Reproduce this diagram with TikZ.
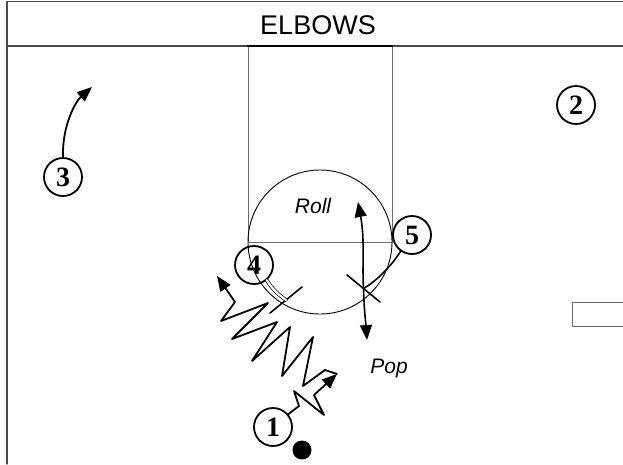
\documentclass[tikz,border=0pt]{standalone}
\usepackage{fontspec}
\setmainfont{Liberation Serif}
\newfontfamily\courtfont{Liberation Sans}
\usepackage{tikz}
\usetikzlibrary{calc,arrows.meta}
\definecolor{court}{HTML}{6E6E6E}
\definecolor{frame}{HTML}{4A4A4A}
\tikzset{
  Player/.style={
    draw, circle, line width=1.8pt,
    minimum size=38pt, inner sep=0pt,
    font=\fontsize{28}{28}\selectfont\bfseries
  },
  CourtLine/.style={draw=court, line width=0.9pt},
  Move/.style={line width=1.8pt, -{Triangle[length=15pt,width=12pt]}},
  ScreenLine/.style={line width=1.6pt},
  PlayLabel/.style={font=\courtfont\itshape\fontsize{21}{21}\selectfont}
}

\begin{document}
\begin{tikzpicture}[x=1pt, y=-1pt, line cap=round, line join=round]
  \useasboundingbox (0,0) rectangle (623,464);

  % frame and title bar
  \draw[frame, line width=1.3pt] (623,1.5) -- (7,1.5) -- (7,464);
  \draw[frame, line width=1.3pt] (7,46) -- (623,46);
  \node[font=\courtfont\fontsize{27}{27}\selectfont] (title) at (318,25) {ELBOWS};

  % lane, free throw circle, block mark
  \draw[CourtLine] (248,46) rectangle (392,242);
  \draw[line width=2.2pt] (248,46) -- (392,46);
  \draw[line width=0.9pt] (320,242) circle[radius=72];
  \draw[CourtLine] (623,302) -- (572,302) -- (572,326) -- (623,326);

  \node[Player] (P1) at (273,427) {1};
  \node[Player] (P2) at (576,105) {2};
  \node[Player] (P3) at (63,177) {3};
  \node[Player] (P4) at (254,265) {4};
  \node[Player] (P5) at (412,235) {5};
  \node[fill, circle, minimum size=19pt, inner sep=0pt] (ball) at (302,450) {};

  % screens
  \coordinate (S4a) at (270,313);
  \coordinate (S4b) at (302,287);
  \coordinate (S4) at ($(S4a)!0.5!(S4b)$);
  \coordinate (S5a) at (347,275);
  \coordinate (S5b) at (380,302);
  \coordinate (S5) at ($(S5a)!0.5!(S5b)$);
  \draw[ScreenLine] (S4a) -- (S4b);
  \draw[ScreenLine] (S5a) -- (S5b);
  \draw[double, line width=0.7pt, double distance=2.2pt] (P4.-50) .. controls (272,289) and (279,295) .. (S4);
  \draw[line width=1.6pt] (P5.235) .. controls (390,268) and (375,282) .. (S5);

  % roll or pop
  \coordinate (R) at (358,202);
  \coordinate (Q) at (367,340);
  \draw[line width=1.6pt, {Triangle[length=15pt,width=12pt]}-{Triangle[length=15pt,width=12pt]}]
    (R) .. controls (365,240) and (362,265) .. (S5) .. controls (364,310) and (366,325) .. (Q);
  \node[PlayLabel] (roll) at (313,206) {Roll};
  \node[PlayLabel] (pop) at (389,368) {Pop};

  % cut of 3
  \coordinate (C3) at (92,87);
  \draw[Move] (P3.north) .. controls (62,125) and (76,101) .. (C3);

  % dribble of 1
  \coordinate (D1) at (337,374);
  \coordinate (D2) at (217,276);
  \draw[Move] (P1.40) -- (299,406) -- (294,391) -- (324,415) -- (314,395) -- (D1);
  \draw[Move] (D1) -- (325,370) -- (303,386) -- (313,337) -- (282,376) -- (290,327)
    -- (252,361) -- (277,322) -- (232,339) -- (268,303) -- (221,321) -- (235,302) -- (D2);
\end{tikzpicture}
\end{document}
